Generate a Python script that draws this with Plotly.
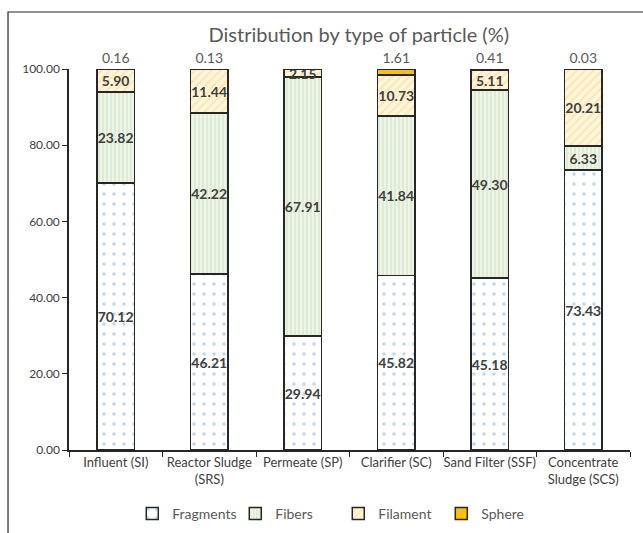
import plotly.graph_objects as go

categories = ["Influent (SI)", "Reactor Sludge<br>(SRS)", "Permeate (SP)", "Clarifier (SC)",
              "Sand Filter (SSF)", "Concentrate<br>Sludge (SCS)"]
fragments = [70.12, 46.21, 29.94, 45.82, 45.18, 73.43]
fibers = [23.82, 42.22, 67.91, 41.84, 49.30, 6.33]
filament = [5.90, 11.44, 2.15, 10.73, 5.11, 20.21]
sphere = [0.16, 0.13, 0.0, 1.61, 0.41, 0.03]
sphere_text = ["0.16", "0.13", "", "1.61", "0.41", "0.03"]

FONT = "Lato, sans-serif"
TXT = "#404040"

fig = go.Figure()
line = dict(color="#262626", width=1.5)
inside_font = dict(family=FONT, size=15, color=TXT, weight="bold")

fig.add_trace(go.Bar(
    name="Fragments", x=categories, y=fragments,
    marker=dict(color="white", line=line,
                pattern=dict(shape=".", fgcolor="#7DB0E0", bgcolor="white", size=10, solidity=0.1)),
    texttemplate="%{y:.2f}", textposition="inside", insidetextanchor="middle", textangle=0,
    textfont=inside_font, cliponaxis=False))
fig.add_trace(go.Bar(
    name="Fibers", x=categories, y=fibers,
    marker=dict(color="#EEF5E8", line=line,
                pattern=dict(shape="|", fgcolor="#B5D6A0", bgcolor="#EEF5E8", size=4, solidity=0.3)),
    texttemplate="%{y:.2f}", textposition="inside", insidetextanchor="middle", textangle=0,
    textfont=inside_font, cliponaxis=False))
fig.add_trace(go.Bar(
    name="Filament", x=categories, y=filament,
    marker=dict(color="#FFF6DD", line=line,
                pattern=dict(shape="/", fgcolor="#FFD06A", bgcolor="#FFF6DD", size=6, solidity=0.3)),
    texttemplate="%{y:.2f}", textposition="inside", insidetextanchor="middle", textangle=0,
    textfont=inside_font, cliponaxis=False))
fig.add_trace(go.Bar(
    name="Sphere", x=categories, y=sphere,
    marker=dict(color="#FFC000", line=line),
    text=sphere_text, textposition="outside", textangle=0,
    textfont=dict(family=FONT, size=13, color="#595959"), cliponaxis=False))

fig.update_layout(
    barmode="stack", bargap=0.6,
    width=643, height=533,
    margin=dict(l=69, r=13, t=69, b=83, autoexpand=False),
    paper_bgcolor="white", plot_bgcolor="white",
    font=dict(family=FONT, size=13, color=TXT),
    title=dict(text="Distribution by type of particle (%)", x=0.558, xanchor="center",
               y=0.934, yanchor="middle", font=dict(family=FONT, size=20, color="#595959")),
    uniformtext=dict(minsize=14, mode="show"),
    legend=dict(orientation="h", x=0.48, xanchor="center", y=-0.168, yanchor="middle",
                font=dict(family=FONT, size=14, color="#595959"), traceorder="normal",
                itemwidth=30, entrywidth=58, entrywidthmode="pixels"),
    showlegend=True,
)
fig.update_yaxes(range=[0, 100], tickvals=[0, 20, 40, 60, 80, 100], tickformat=".2f",
                 showgrid=False, zeroline=False, showline=True, linecolor="#262626", linewidth=1.5,
                 ticks="outside", ticklen=5, tickcolor="#262626", automargin=False,
                 tickfont=dict(family=FONT, size=12, color=TXT))
fig.update_xaxes(showgrid=False, showline=True, linecolor="#262626", linewidth=1.5,
                 ticks="outside", tickson="boundaries", ticklen=5, tickcolor="#262626",
                 tickangle=0, automargin=False,
                 tickfont=dict(family=FONT, size=13, color=TXT))

fig.add_shape(type="rect", xref="paper", yref="paper", x0=-0.1087, x1=1.3, y0=-0.3, y1=1.1496,
              line=dict(color="#262626", width=1.2), fillcolor="rgba(0,0,0,0)", layer="below")

fig.write_html("out.html", config={"displayModeBar": False},
               post_script="document.body.style.margin='0px';")
